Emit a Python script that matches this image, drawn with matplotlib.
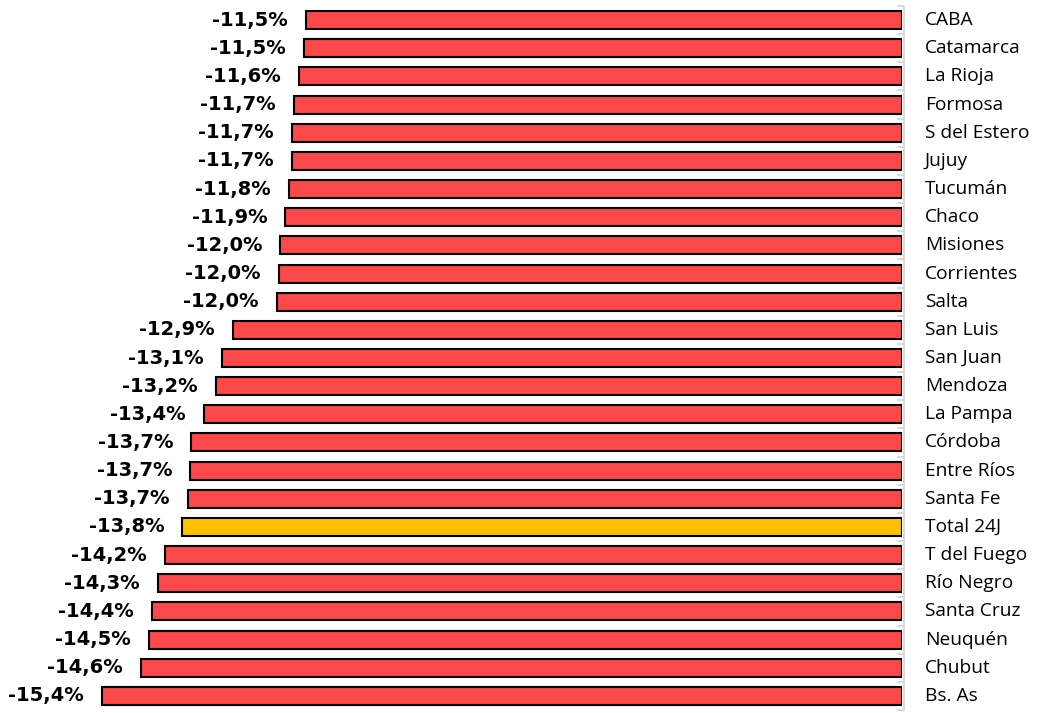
import numpy as np
import matplotlib.pyplot as plt

# provincias, de arriba hacia abajo
provincias = ["CABA", "Catamarca", "La Rioja", "Formosa", "S del Estero", "Jujuy",
              "Tucumán", "Chaco", "Misiones", "Corrientes", "Salta", "San Luis",
              "San Juan", "Mendoza", "La Pampa", "Córdoba", "Entre Ríos", "Santa Fe",
              "Total 24J", "T del Fuego", "Río Negro", "Santa Cruz", "Neuquén",
              "Chubut", "Bs. As"]
variacion = [-11.46, -11.50, -11.60, -11.69, -11.73, -11.74,
             -11.79, -11.86, -11.96, -11.98, -12.02, -12.87,
             -13.08, -13.19, -13.42, -13.67, -13.69, -13.73,
             -13.84, -14.17, -14.31, -14.42, -14.48,
             -14.63, -15.38]
destacado = "Total 24J"

rojo = "#fb4848"
amarillo = "#ffc000"

fig = plt.figure(figsize=(10.39, 7.13), dpi=100)
ax = fig.add_axes([96 / 1039, 3 / 713, 806 / 1039, 704 / 713])

y = np.arange(len(provincias))
colores = [amarillo if p == destacado else rojo for p in provincias]
ax.barh(y, variacion, height=0.64, color=colores, edgecolor="black", linewidth=1.5, zorder=3)

# eje del cero gris con marcas entre categorias
for s in ["top", "bottom", "left"]:
    ax.spines[s].set_visible(False)
ax.spines["right"].set_position(("data", 0.04))
ax.spines["right"].set_color("#d4d4d4")
ax.spines["right"].set_linewidth(1.2)
ax.yaxis.tick_right()
ax.set_yticks(np.arange(len(provincias) + 1) - 0.5)
ax.tick_params(axis="y", direction="in", length=5, width=1.2, color="#d4d4d4",
               labelright=False, labelleft=False)

for i, (p, v) in enumerate(zip(provincias, variacion)):
    ax.annotate(p, (0, i), xytext=(16.5, 0), textcoords="offset points",
                ha="left", va="center", fontsize=13.8, family="Open Sans")
    txt = ("%.1f%%" % v).replace(".", ",")
    ax.annotate(txt, (v, i), xytext=(-13, 0), textcoords="offset points",
                ha="right", va="center", fontsize=14, fontweight="bold", family="DejaVu Sans")

ax.set_xlim(-15.5, 0)
ax.set_ylim(len(provincias) - 0.5, -0.5)
ax.set_xticks([])

fig.savefig("out.png", dpi=100)
